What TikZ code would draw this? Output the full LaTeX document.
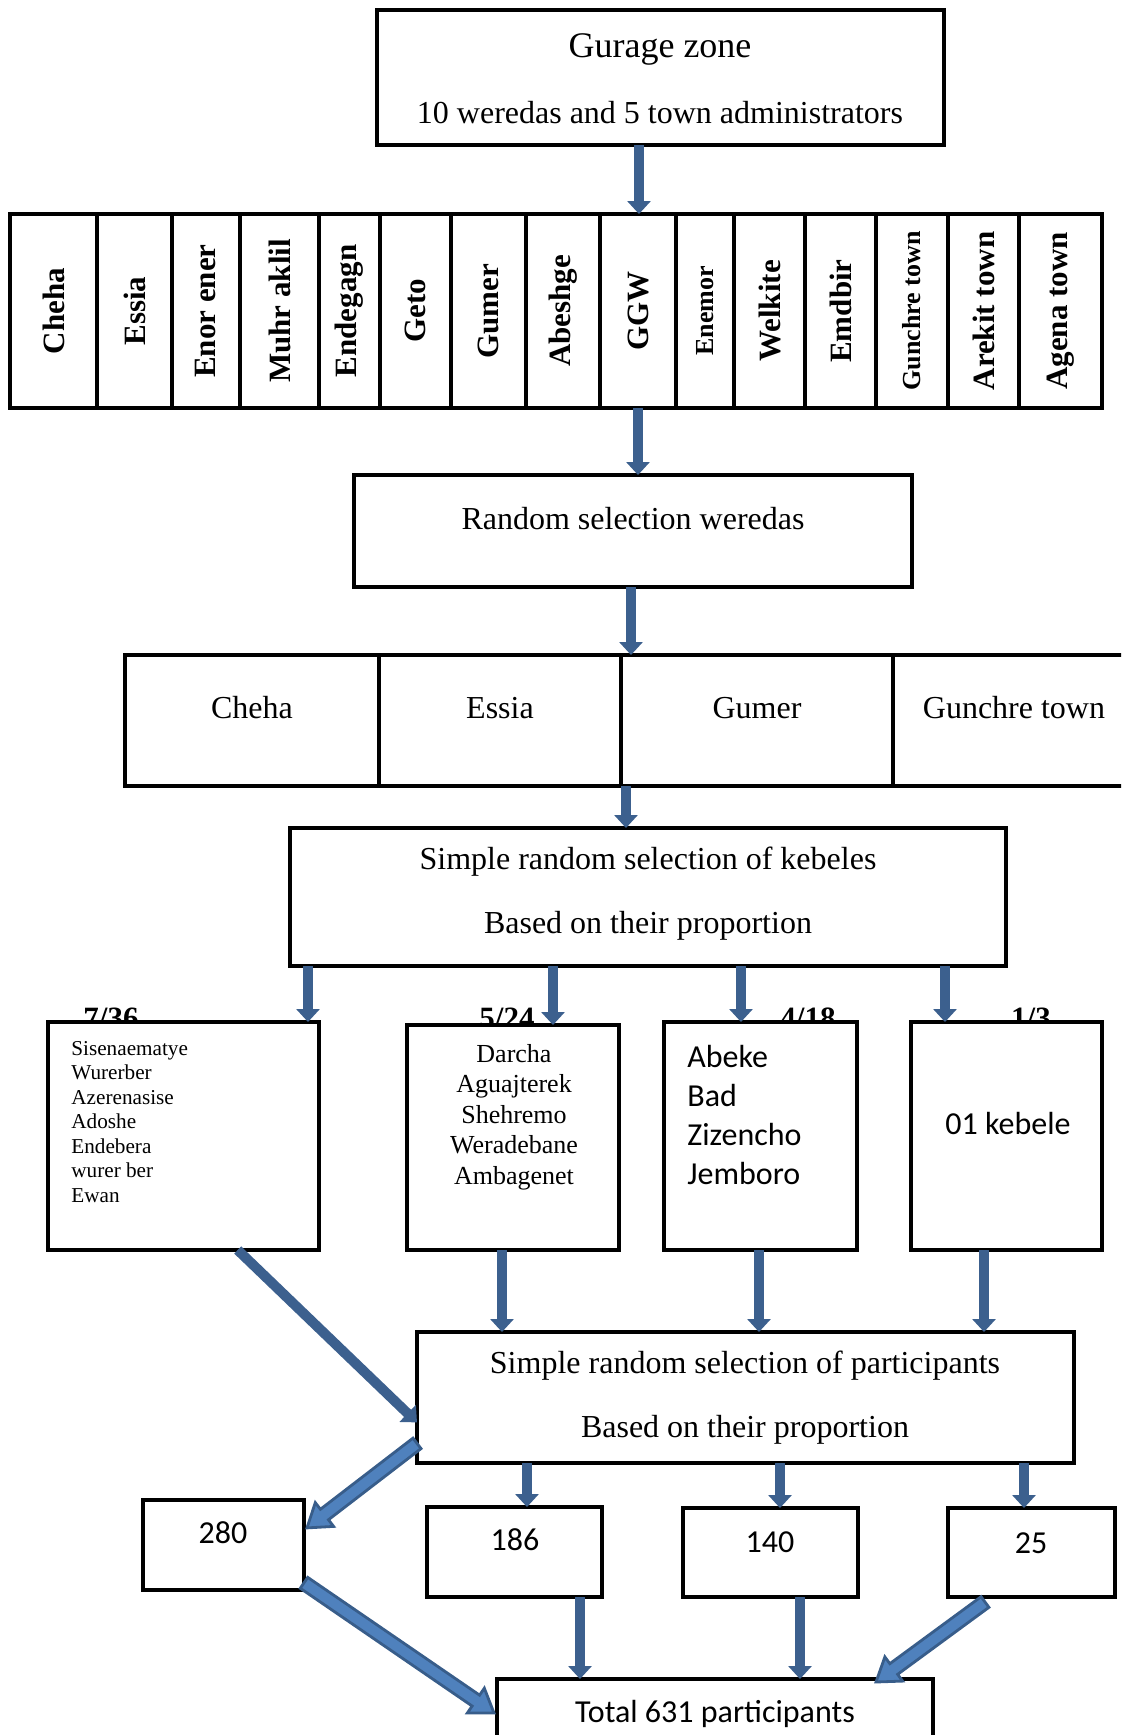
\documentclass[tikz,border=0pt]{standalone}
\usepackage{fontspec}
\setmainfont{Liberation Serif}
\newfontfamily\calib{Carlito}
\usetikzlibrary{arrows.meta,calc}
\definecolor{arrblue}{RGB}{60,96,142}
\definecolor{blkfill}{RGB}{79,129,189}
\definecolor{blkdraw}{RGB}{56,93,138}
% box: [opts]{name}{x1}{y1}{x2}{y2}{content}
\newcommand\mkbox[7][]{\node[boxst,#1,minimum width={(#5-#3)*0.5pt},minimum height={(#6-#4)*0.5pt}] (#2) at ({(#3+#5)/2},{(#4+#6)/2}) {#7};}
\newcommand\blockarrow[2]{%
 \path[fill=blkfill, draw=blkdraw, line width=1.4pt, line join=miter]
 let \p1=($(#2)-(#1)$), \n1={atan2(\y1,\x1)} in
 ($(#1)+({\n1+90}:3.3pt)$) -- ($(#2)+({\n1+180}:11pt)+({\n1+90}:3.3pt)$) --
 ($(#2)+({\n1+180}:11pt)+({\n1+90}:7.5pt)$) -- (#2) --
 ($(#2)+({\n1+180}:11pt)+({\n1-90}:7.5pt)$) --
 ($(#2)+({\n1+180}:11pt)+({\n1-90}:3.3pt)$) -- ($(#1)+({\n1-90}:3.3pt)$) -- cycle;}
\newcommand\rowtxt[2][15.5]{\rotatebox{90}{\fontsize{#1}{#1}\selectfont\bfseries #2}}
\begin{document}
\begin{tikzpicture}[x=0.5pt,y=-0.5pt,
  boxst/.style={draw=black, line width=2.4pt, fill=white, inner sep=0pt, outer sep=0pt, rectangle},
  arr/.style={draw=arrblue, line width=5pt, -{Triangle[width=11.5pt,length=6.5pt]}},
  txt/.style={inner sep=0pt, font=\fontsize{16}{19}\selectfont},
  ctxt/.style={inner sep=0pt, font=\calib\fontsize{16}{19}\selectfont},
  frac/.style={inner sep=0pt, anchor=base, font=\fontsize{15.5}{18}\selectfont\bfseries}]
\useasboundingbox (0,0) rectangle (1121,1735);
\clip (0,0) rectangle (1121,1735);
\fill[white] (0,0) rectangle (1121,1735);

% top box
\mkbox{top}{377}{10}{944}{145}{}
\node[txt, font=\fontsize{18}{21}\selectfont] (topa) at (660,49) {Gurage zone};
\node[txt] (topb) at (660,113) {10 weredas and 5 town administrators};

% row of weredas
\mkbox{r1}{10}{214}{97}{408}{\rowtxt{Cheha}}
\mkbox{r2}{97}{214}{172}{408}{\rowtxt{Essia}}
\mkbox{r3}{172}{214}{240}{408}{\rowtxt{Enor ener}}
\mkbox{r4}{240}{214}{319}{408}{\rowtxt{Muhr aklil}}
\mkbox{r5}{319}{214}{380}{408}{\rowtxt{Endegagn}}
\mkbox{r6}{380}{214}{451}{408}{\rowtxt{Geto}}
\mkbox{r7}{451}{214}{526}{408}{\rowtxt{Gumer}}
\mkbox{r8}{526}{214}{600}{408}{\rowtxt{Abeshge}}
\mkbox{r9}{600}{214}{676}{408}{\rowtxt{GGW}}
\mkbox{r10}{676}{214}{734}{408}{\rowtxt[13]{Enemor}}
\mkbox{r11}{734}{214}{805}{408}{\rowtxt{Welkite}}
\mkbox{r12}{805}{214}{876}{408}{\rowtxt{Emdbir}}
\mkbox{r13}{876}{214}{948}{408}{\rowtxt[13]{Gunchre town}}
\mkbox{r14}{948}{214}{1019}{408}{\rowtxt{Arekit town}}
\mkbox{r15}{1019}{214}{1102}{408}{\rowtxt{Agena town}}

% random selection weredas
\mkbox{rand}{354}{475}{912}{587}{}
\node[txt] (randt) at (633,519) {Random selection weredas};

% four selected
\mkbox{f1}{125}{655}{379}{786}{}
\mkbox{f2}{379}{655}{621}{786}{}
\mkbox{f3}{621}{655}{893}{786}{}
\mkbox{f4}{893}{655}{1140}{786}{}
\node[txt] (f1t) at (252,708) {Cheha};
\node[txt] (f2t) at (500,708) {Essia};
\node[txt] (f3t) at (757,708) {Gumer};
\node[txt] (f4t) at (1014,708) {Gunchre town};

% kebeles selection
\mkbox{keb}{290}{828}{1006}{966}{}
\node[txt] (kebt1) at (648,862) {Simple random selection of kebeles};
\node[txt] (kebt2) at (648,926) {Based on their proportion};

% fractions (behind boxes)
\node[frac] (fr1) at (111,1028) {7/36};
\node[frac] (fr2) at (507,1028) {5/24};
\node[frac] (fr3) at (808,1028) {4/18};
\node[frac] (fr4) at (1031,1028) {1/3};

% kebele boxes
\mkbox{k1}{48}{1022}{319}{1250}{}
\mkbox{k2}{407}{1025}{619}{1250}{}
\mkbox{k3}{664}{1022}{857}{1250}{}
\mkbox{k4}{911}{1022}{1102}{1250}{}
\node[inner sep=0pt, anchor=north west, align=left, font=\fontsize{10.6}{12.25}\selectfont] (k1t) at (71,1041)
  {Sisenaematye\\Wurerber\\Azerenasise\\Adoshe\\Endebera\\wurer ber\\Ewan};
\node[inner sep=0pt, anchor=north, align=center, font=\fontsize{13}{15.25}\selectfont] (k2t) at (514,1044)
  {Darcha\\Aguajterek\\Shehremo\\Weradebane\\Ambagenet};
\node[inner sep=0pt, anchor=north west, align=left, font=\calib\fontsize{16}{19.5}\selectfont] (k3t) at (687,1045)
  {Abeke\\Bad\\Zizencho\\Jemboro};
\node[ctxt] (k4t) at (1008,1123) {01 kebele};

% participants selection
\mkbox{part}{417}{1332}{1074}{1463}{}
\node[txt] (partt1) at (745,1366) {Simple random selection of participants};
\node[txt] (partt2) at (745,1430) {Based on their proportion};

% number boxes
\mkbox{n280}{143}{1500}{304}{1590}{}
\mkbox{n186}{427}{1507}{602}{1597}{}
\mkbox{n140}{683}{1508}{858}{1597}{}
\mkbox{n25}{948}{1508}{1115}{1597}{}
\node[ctxt] (n280t) at (223,1533) {280};
\node[ctxt] (n186t) at (515,1540) {186};
\node[ctxt] (n140t) at (770,1542) {140};
\node[ctxt] (n25t) at (1031,1543) {25};

% total
\mkbox{tot}{497}{1679}{933}{1775}{}
\node[ctxt] (tott) at (715,1714) {Total 631 participants};

% x positions of vertical connectors
\coordinate (xa) at (639,0);
\coordinate (xb) at (638,0);
\coordinate (xc) at (631,0);
\coordinate (xd) at (626,0);
\coordinate (xk1) at (308,0);
\coordinate (xk2) at (553,0);
\coordinate (xk3) at (741,0);
\coordinate (xk4) at (945,0);
\coordinate (xp2) at (502,0);
\coordinate (xp3) at (759,0);
\coordinate (xp4) at (984,0);
\coordinate (xn2) at (527,0);
\coordinate (xn3) at (780,0);
\coordinate (xn4) at (1024,0);
\coordinate (xt2) at (580,0);
\coordinate (xt3) at (800,0);

\draw[arr] (xa |- top.south) -- (xa |- r9.north);
\draw[arr] (xb |- r9.south) -- (xb |- rand.north);
\draw[arr] (xc |- rand.south) -- (xc |- f3.north);
\draw[arr] (xd |- f3.south) -- (xd |- keb.north);
\draw[arr] (xk1 |- keb.south) -- (xk1 |- k1.north);
\draw[arr] (xk2 |- keb.south) -- (xk2 |- k2.north);
\draw[arr] (xk3 |- keb.south) -- (xk3 |- k3.north);
\draw[arr] (xk4 |- keb.south) -- (xk4 |- k4.north);
\draw[arr] (xp2 |- k2.south) -- (xp2 |- part.north);
\draw[arr] (xp3 |- k3.south) -- (xp3 |- part.north);
\draw[arr] (xp4 |- k4.south) -- (xp4 |- part.north);
\draw[arr] ($(k1.south west)!0.7!(k1.south east)$) -- ($(part.north west)!0.69!(part.south west)$);
\draw[arr] (xn2 |- part.south) -- (xn2 |- n186.north);
\draw[arr] (xn3 |- part.south) -- (xn3 |- n140.north);
\draw[arr] (xn4 |- part.south) -- (xn4 |- n25.north);
\draw[arr] (xt2 |- n186.south) -- (xt2 |- tot.north);
\draw[arr] (xt3 |- n140.south) -- (xt3 |- tot.north);

% block arrows
\coordinate (b1s) at ($(part.north west)!0.85!(part.south west)$);
\coordinate (b1e) at ($(n280.north east)!0.31!(n280.south east)+(3,0)$);
\coordinate (b2s) at ($(n280.north east)!0.92!(n280.south east)$);
\coordinate (b2e) at ($(tot.north west)+(-3,34)$);
\coordinate (b3s) at ($(n25.south west)+(37,5)$);
\coordinate (b3e) at ($(tot.north east)+(-57,3)$);
\blockarrow{b1s}{b1e}
\blockarrow{b2s}{b2e}
\blockarrow{b3s}{b3e}
\end{tikzpicture}
\end{document}
